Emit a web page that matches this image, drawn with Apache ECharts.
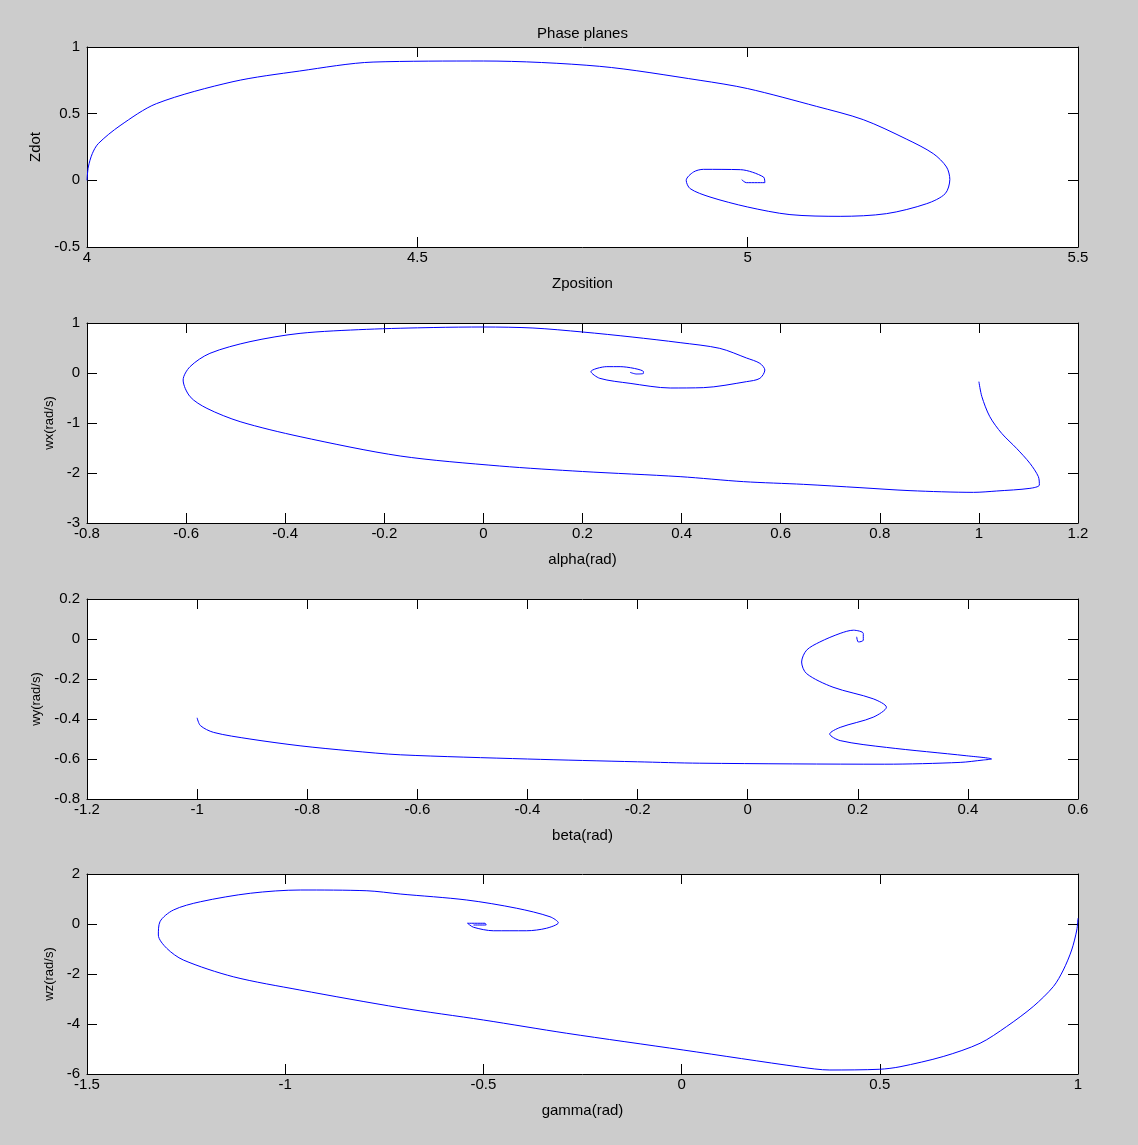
<!DOCTYPE html>
<html><head><meta charset="utf-8">
<script src="https://cdn.jsdelivr.net/npm/echarts@6/dist/echarts.min.js"></script>
<style>html,body{margin:0;padding:0;background:#cccccc}#c{width:1138px;height:1145px}</style>
</head><body><div id="c"></div>
<script>
// Panel 1: Zdot vs Zposition
const zPosition = [4.0, 4.002, 4.008, 4.017, 4.05, 4.105, 4.221, 4.322, 4.433, 4.6, 4.776, 4.928, 5.0, 5.104, 5.175, 5.24, 5.281, 5.301, 5.306, 5.299, 5.271, 5.21, 5.14, 5.064, 5.0, 4.943, 4.913, 4.907, 4.918, 4.933, 4.989, 5.024, 5.026, 4.998, 4.991];
const zDot = [0, 0.1, 0.2, 0.275, 0.41, 0.575, 0.74, 0.82, 0.887, 0.895, 0.855, 0.75, 0.688, 0.555, 0.455, 0.31, 0.2, 0.1, 0.007, -0.1, -0.175, -0.25, -0.27, -0.257, -0.2, -0.125, -0.0625, 0, 0.0625, 0.0825, 0.08, 0.025, -0.0175, -0.0175, 0.005];
// Panel 2: wx vs alpha
const alpha = [1.0, 1.006, 1.022, 1.046, 1.076, 1.103, 1.12, 1.122, 1.103, 1.036, 0.989, 0.861, 0.76, 0.646, 0.525, 0.397, 0.2, 0.033, -0.168, -0.37, -0.491, -0.558, -0.592, -0.606, -0.592, -0.552, -0.471, -0.37, -0.236, -0.1, 0, 0.1, 0.2, 0.3, 0.397, 0.477, 0.531, 0.558, 0.568, 0.558, 0.531, 0.444, 0.377, 0.296, 0.235, 0.217, 0.249, 0.276, 0.323, 0.323, 0.309, 0.296];
const wx = [-0.173, -0.473, -0.873, -1.207, -1.507, -1.807, -2.073, -2.24, -2.307, -2.36, -2.387, -2.353, -2.293, -2.227, -2.173, -2.073, -1.97, -1.86, -1.66, -1.273, -0.973, -0.707, -0.473, -0.14, 0.127, 0.393, 0.627, 0.793, 0.873, 0.91, 0.92, 0.9, 0.82, 0.72, 0.607, 0.493, 0.3, 0.193, 0.06, -0.107, -0.173, -0.293, -0.3, -0.207, -0.107, 0.027, 0.127, 0.127, 0.027, -0.007, -0.02, 0.013];
// Panel 3: wy vs beta
const beta = [-1.0, -0.994, -0.97, -0.904, -0.813, -0.722, -0.631, -0.4, -0.2, -0.087, 0.249, 0.386, 0.428, 0.443, 0.398, 0.252, 0.168, 0.149, 0.168, 0.228, 0.252, 0.228, 0.155, 0.107, 0.098, 0.107, 0.131, 0.168, 0.192, 0.21, 0.21, 0.201, 0.198];
const wy = [-0.394, -0.433, -0.467, -0.5, -0.534, -0.559, -0.579, -0.6, -0.614, -0.621, -0.626, -0.617, -0.605, -0.6, -0.584, -0.542, -0.508, -0.475, -0.442, -0.391, -0.341, -0.299, -0.241, -0.173, -0.115, -0.056, -0.015, 0.028, 0.044, 0.028, -0.006, -0.015, 0.011];
// Panel 4: wz vs gamma
const gamma = [1.0, 0.997, 0.984, 0.963, 0.938, 0.887, 0.82, 0.753, 0.66, 0.551, 0.5, 0.374, 0.298, 0.004, -0.29, -0.5, -0.71, -0.963, -1.131, -1.257, -1.299, -1.32, -1.316, -1.282, -1.214, -1.088, -0.962, -0.794, -0.71, -0.542, -0.416, -0.332, -0.311, -0.341, -0.391, -0.475, -0.525, -0.54, -0.496, -0.493, -0.525];
const wz = [0.23, -0.24, -1.04, -1.84, -2.5, -3.3, -4.1, -4.77, -5.3, -5.71, -5.81, -5.84, -5.72, -5.04, -4.37, -3.84, -3.35, -2.64, -2.11, -1.44, -0.97, -0.44, 0.09, 0.56, 0.89, 1.23, 1.36, 1.33, 1.2, 0.96, 0.63, 0.29, 0.05, -0.17, -0.27, -0.27, -0.13, 0.03, 0.03, -0.04, -0.04];

const titleText = 'Phase planes';
const xNames = ['Zposition', 'alpha(rad)', 'beta(rad)', 'gamma(rad)'];
const yNames = ['Zdot', 'wx(rad/s)', 'wy(rad/s)', 'wz(rad/s)'];
const xRanges = [[4, 5.5, 0.5], [-0.8, 1.2, 0.2], [-1.2, 0.6, 0.2], [-1.5, 1, 0.5]];
const yRanges = [[-0.5, 1, 0.5], [-3, 1, 1], [-0.8, 0.2, 0.2], [-6, 2, 2]];
const xs = [zPosition, alpha, beta, gamma];
const ys = [zDot, wx, wy, wz];

const FONT = 'Liberation Sans, Arial, sans-serif';
const TOPS = [47, 323, 599, 874];
const H = 200, LEFT = 87, W = 991;
const yNameGaps = [37, 27, 36, 27];
const yNameSizes = [15, 13, 13, 13];

function axis(extra) {
  return Object.assign({
    type: 'value',
    axisLine: { show: true, onZero: false, lineStyle: { color: '#000', width: 1 } },
    axisTick: { show: true, inside: true, length: 10, lineStyle: { color: '#000', width: 1 } },
    splitLine: { show: false },
    axisLabel: { color: '#000', fontFamily: FONT, fontSize: 15 }
  }, extra);
}

const grid = [], xAxis = [], yAxis = [], series = [];
for (let i = 0; i < 4; i++) {
  grid.push({ left: LEFT, top: TOPS[i], width: W, height: H, show: true, backgroundColor: '#fff', borderWidth: 0 });
  const [x0, x1, xi] = xRanges[i];
  const [y0, y1, yi] = yRanges[i];
  xAxis.push(axis({ gridIndex: i, position: 'bottom', min: x0, max: x1, interval: xi,
    axisLabel: { color: '#000', fontFamily: FONT, fontSize: 15, margin: 3 },
    name: xNames[i], nameLocation: 'middle', nameGap: 29,
    nameTextStyle: { color: '#000', fontFamily: FONT, fontSize: 15 } }));
  xAxis.push(axis({ gridIndex: i, position: 'top', min: x0, max: x1, interval: xi, axisLabel: { show: false } }));
  yAxis.push(axis({ gridIndex: i, position: 'left', min: y0, max: y1, interval: yi,
    axisLabel: { color: '#000', fontFamily: FONT, fontSize: 15, margin: 7 },
    name: yNames[i], nameLocation: 'middle', nameGap: yNameGaps[i], nameRotate: 90,
    nameTextStyle: { color: '#000', fontFamily: FONT, fontSize: yNameSizes[i] } }));
  yAxis.push(axis({ gridIndex: i, position: 'right', min: y0, max: y1, interval: yi, axisLabel: { show: false } }));
  series.push({
    type: 'line', xAxisIndex: 2 * i, yAxisIndex: 2 * i, showSymbol: false, symbol: 'none',
    smooth: 0.3,
    data: xs[i].map((v, k) => [v, ys[i][k]]),
    lineStyle: { color: '#0000ff', width: 1 }, itemStyle: { color: '#0000ff' }
  });
}

const chart = echarts.init(document.getElementById('c'), null, { renderer: 'canvas' });
chart.setOption({
  backgroundColor: '#cccccc',
  animation: false,
  graphic: [{ type: 'text', x: LEFT + W / 2, y: 34,
    style: { text: titleText, fill: '#000', font: '15px ' + FONT, textAlign: 'center', textVerticalAlign: 'middle' } }],
  grid, xAxis, yAxis, series
});
</script>
</body></html>
